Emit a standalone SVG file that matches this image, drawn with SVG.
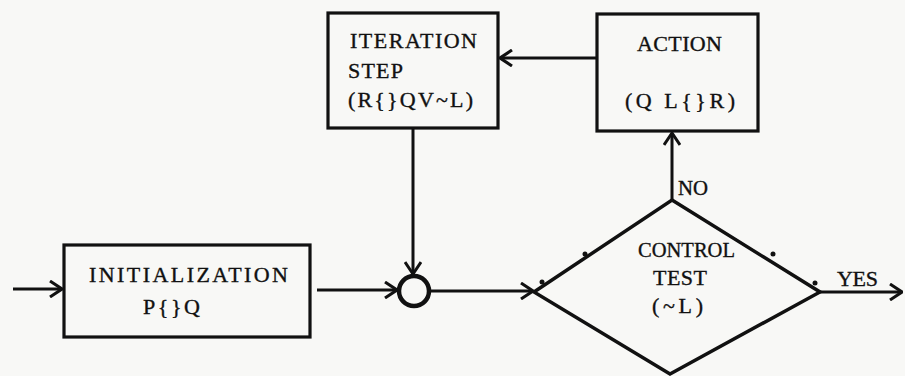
<svg xmlns="http://www.w3.org/2000/svg" width="905" height="376" viewBox="0 0 905 376">
<style>
  .box { fill: none; stroke: #111; stroke-width: 3.2; }
  .conn { fill: none; stroke: #111; stroke-width: 3; }
  .t { font-family: "Liberation Serif", "Times New Roman", serif; font-size: 22px; fill: #111; stroke: #111; stroke-width: 0.35; }
  .dot { fill: #111; }
</style>
<defs>
  <marker id="arr" viewBox="0 0 14 18" refX="13" refY="9" markerWidth="14" markerHeight="18" orient="auto" markerUnits="userSpaceOnUse">
    <path d="M1,1 L13,9 L1,17" fill="none" stroke="#111" stroke-width="3"/>
  </marker>
</defs>
<rect width="905" height="376" fill="#f8f8f6"/>

<g id="connectors">
  <line class="conn" x1="13" y1="289" x2="62" y2="289" marker-end="url(#arr)"/>
  <line class="conn" x1="317" y1="290" x2="397" y2="290" marker-end="url(#arr)"/>
  <line class="conn" x1="413" y1="129" x2="413" y2="274" marker-end="url(#arr)"/>
  <line class="conn" x1="430" y1="291" x2="533" y2="291" marker-end="url(#arr)"/>
  <line class="conn" x1="597" y1="58" x2="500" y2="58" marker-end="url(#arr)"/>
  <line class="conn" x1="672" y1="200" x2="672" y2="133" marker-end="url(#arr)"/>
  <line class="conn" x1="820" y1="292" x2="902" y2="292" marker-end="url(#arr)"/>
  <text class="t" x="678" y="195" textLength="30" lengthAdjust="spacingAndGlyphs" style="font-size:20px">NO</text>
  <text class="t" x="837" y="286" textLength="41" lengthAdjust="spacing">YES</text>
</g>

<g id="init">
  <rect class="box" x="64" y="245" width="246" height="92"/>
  <text class="t" x="89" y="282" textLength="199" lengthAdjust="spacing">INITIALIZATION</text>
  <text class="t" x="143" y="314" textLength="57" lengthAdjust="spacing">P{}Q</text>
</g>

<g id="join">
  <circle cx="414" cy="291" r="15" fill="none" stroke="#111" stroke-width="4.5"/>
</g>

<g id="iteration">
  <rect class="box" x="328" y="13" width="170" height="115"/>
  <text class="t" x="350" y="48" textLength="127" lengthAdjust="spacing">ITERATION</text>
  <text class="t" x="348" y="78" textLength="55" lengthAdjust="spacing">STEP</text>
  <text class="t" x="348" y="107" textLength="125" lengthAdjust="spacing">(R{}QV~L)</text>
</g>

<g id="action">
  <rect class="box" x="597" y="14" width="161" height="117"/>
  <text class="t" x="637" y="51" textLength="85" lengthAdjust="spacing">ACTION</text>
  <text class="t" x="625" y="108" textLength="110" lengthAdjust="spacing">(Q L{}R)</text>
</g>

<g id="test">
  <polygon points="672,200 820,292 670,374 534,292" fill="none" stroke="#111" stroke-width="3.5" stroke-linejoin="miter"/>
  <circle class="dot" cx="542" cy="282" r="2.5"/>
  <circle class="dot" cx="585" cy="254" r="2.5"/>
  <circle class="dot" cx="773" cy="254" r="2.5"/>
  <circle class="dot" cx="815" cy="283" r="2.5"/>
  <text class="t" x="638" y="257" textLength="97" lengthAdjust="spacingAndGlyphs">CONTROL</text>
  <text class="t" x="653" y="285" textLength="54" lengthAdjust="spacing">TEST</text>
  <text class="t" x="652" y="313" textLength="51" lengthAdjust="spacing">(~L)</text>
</g>
</svg>
